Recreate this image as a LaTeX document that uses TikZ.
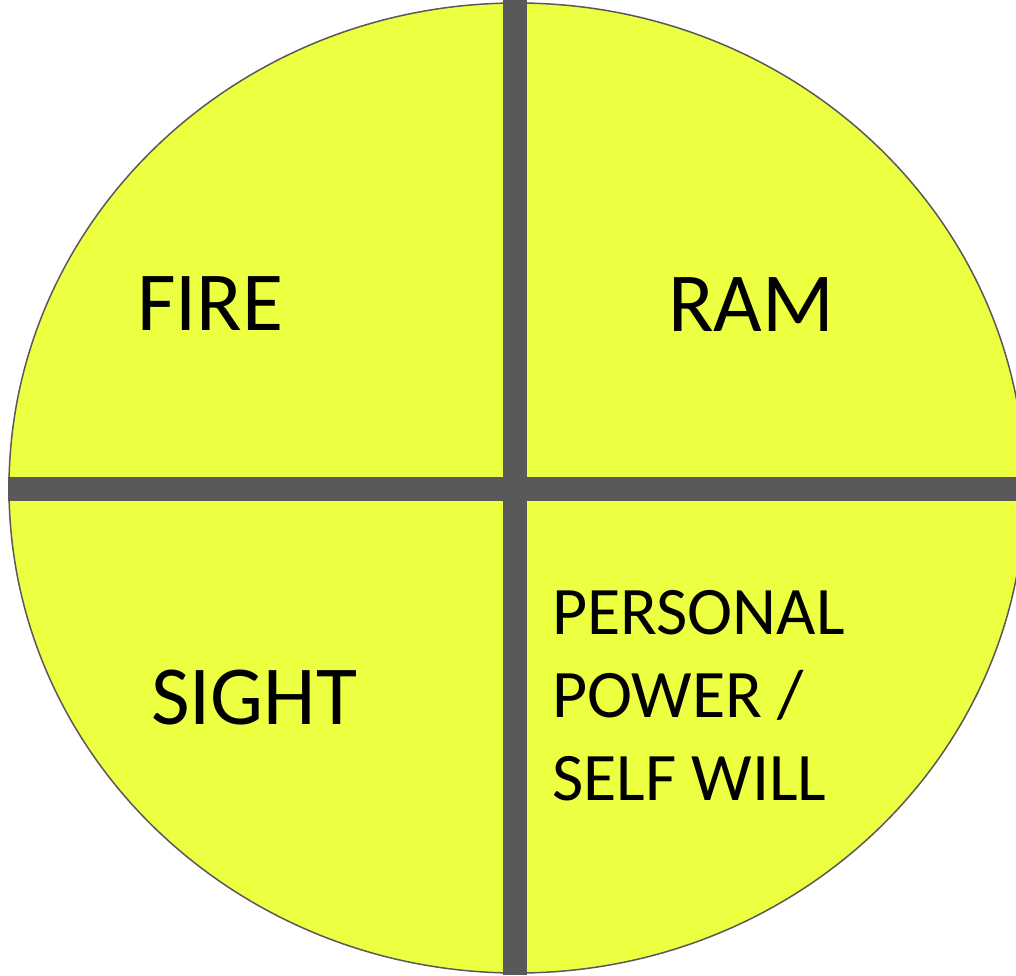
\documentclass[tikz,border=0pt]{standalone}
\usepackage{fontspec}
\setmainfont{Carlito}
\definecolor{disc}{HTML}{ECFF40}
\definecolor{bar}{HTML}{595959}
\tikzset{
  big/.style={font=\fontsize{84}{100}\selectfont, inner sep=0pt, anchor=base west, text=black},
  small/.style={font=\fontsize{68}{83}\selectfont, inner sep=0pt, anchor=base west, text=black, align=left},
}
\begin{document}
\begin{tikzpicture}[x=1pt,y=-1pt]
\useasboundingbox (0,0) rectangle (1016,975);
\begin{scope}
\clip (0,0) rectangle (1016,975);
\fill[disc] (517,488) ellipse [x radius=508, y radius=485];
\draw[bar, line width=1.5pt] (517,488) ellipse [x radius=508, y radius=485];
\fill[bar] (503,0) rectangle (527,975);
\fill[bar] (8,477) rectangle (1016,501);
\end{scope}
\node[big] (fire) at (137,330) {FIRE};
\node[big] (ram) at (668,331) {RAM};
\node[big] (sight) at (151,724) {SIGHT};
\node[small, anchor=north west] (pp) at (552,590) {PERSONAL\\POWER /\\SELF WILL};
\end{tikzpicture}
\end{document}
